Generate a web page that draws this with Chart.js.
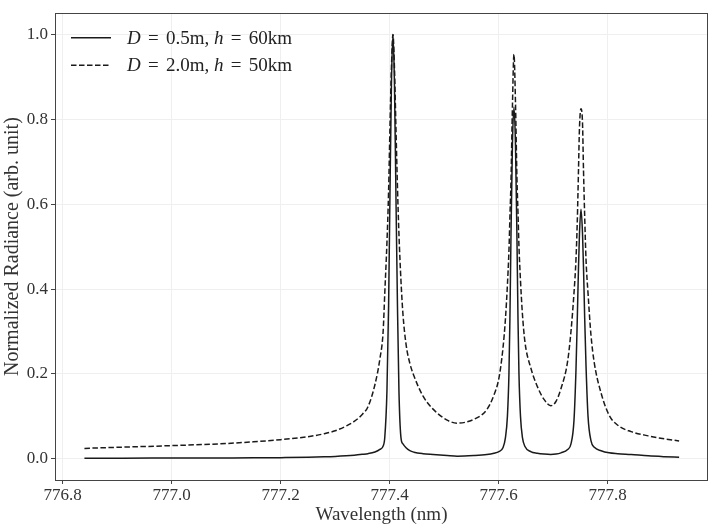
<!DOCTYPE html>
<html>
<head>
<meta charset="utf-8">
<script src="https://cdn.jsdelivr.net/npm/chart.js@4"></script>
<style>
html,body{margin:0;padding:0;background:#fff;}
#wrap{width:709px;height:526px;}
</style>
</head>
<body>
<div id="wrap"><canvas id="c" width="709" height="526"></canvas></div>
<script>
// ---- data ----
const wavelengths = [
  776.840, 776.900, 777.000, 777.100, 777.150, 777.200, 777.250, 777.280, 777.300, 777.320, 777.335, 777.350,
  777.360, 777.373, 777.382, 777.388, 777.391, 777.395, 777.398, 777.4005, 777.4032, 777.406,
  777.4088, 777.4115, 777.4143, 777.417, 777.4207, 777.4244, 777.430, 777.437, 777.4446, 777.461, 777.4796, 777.5054, 777.524,
  777.5544, 777.5783, 777.5912, 777.6004, 777.6078, 777.6124, 777.616, 777.6188, 777.6206, 777.6225, 777.6252, 777.628,
  777.6308, 777.6335, 777.6354, 777.6372, 777.640, 777.6436, 777.6482, 777.6587, 777.671, 777.6832, 777.6955,
  777.7050, 777.7142, 777.7265, 777.7326, 777.7381, 777.7418, 777.7442, 777.7464, 777.7482, 777.751,
  777.7538, 777.7556, 777.7578, 777.7602, 777.7639, 777.7694, 777.7755, 777.7878, 777.8025, 777.8185, 777.843, 777.8743, 777.9037, 777.931
];
const solidRadiance = [
  0.0015, 0.0015, 0.0017, 0.002, 0.0022, 0.0027, 0.0035, 0.0045, 0.0055, 0.007, 0.0085, 0.0105,
  0.012, 0.016, 0.022, 0.030, 0.050, 0.16, 0.36, 0.62, 0.88, 1.0,
  0.88, 0.62, 0.36, 0.16, 0.05, 0.035, 0.026, 0.019, 0.0155, 0.012, 0.010, 0.0075, 0.006,
  0.0075, 0.010, 0.013, 0.017, 0.026, 0.05, 0.10, 0.20, 0.33, 0.52, 0.74, 0.829,
  0.74, 0.52, 0.33, 0.20, 0.10, 0.05, 0.029, 0.017, 0.013, 0.011, 0.010,
  0.011, 0.014, 0.022, 0.035, 0.09, 0.21, 0.33, 0.45, 0.53, 0.588,
  0.53, 0.45, 0.33, 0.22, 0.10, 0.042, 0.027, 0.019, 0.014, 0.012, 0.010, 0.007, 0.005, 0.0035
];
const dashedRadiance = [
  0.0245, 0.027, 0.031, 0.036, 0.040, 0.045, 0.052, 0.059, 0.066, 0.077, 0.088, 0.105,
  0.122, 0.175, 0.235, 0.30, 0.39, 0.51, 0.63, 0.78, 0.92, 1.0,
  0.92, 0.78, 0.64, 0.53, 0.42, 0.34, 0.27, 0.225, 0.195, 0.148, 0.117, 0.091, 0.084,
  0.093, 0.116, 0.15, 0.19, 0.26, 0.33, 0.41, 0.49, 0.57, 0.65, 0.83, 0.953,
  0.84, 0.66, 0.58, 0.50, 0.42, 0.34, 0.275, 0.215, 0.17, 0.14, 0.125,
  0.135, 0.165, 0.23, 0.30, 0.39, 0.47, 0.56, 0.68, 0.78, 0.825,
  0.79, 0.68, 0.57, 0.47, 0.39, 0.29, 0.225, 0.155, 0.103, 0.079, 0.064, 0.054, 0.047, 0.042
];
const seriesLabels = ['D = 0.5m, h = 60km', 'D = 2.0m, h = 50km'];
const xTickValues = [776.8, 777.0, 777.2, 777.4, 777.6, 777.8];
const yTickValues = [0.0, 0.2, 0.4, 0.6, 0.8, 1.0];
const xTitle = 'Wavelength (nm)';
const yTitle = 'Normalized Radiance (arb. unit)';

const SERIF = "'Liberation Serif', 'DejaVu Serif', serif";
const LINE = '#1a1a1a';
const DASH = [5.5, 2.5];

function pts(ys) { return wavelengths.map((x, i) => ({x: x, y: ys[i]})); }

// frame around the plot area
const framePlugin = {
  id: 'frame',
  afterDraw(chart) {
    const a = chart.chartArea, ctx = chart.ctx;
    ctx.save();
    ctx.strokeStyle = '#444';
    ctx.lineWidth = 1;
    ctx.strokeRect(Math.round(a.left) + 0.5, Math.round(a.top) + 0.5,
                   Math.round(a.right - a.left) - 1, Math.round(a.bottom - a.top));
    ctx.restore();
  }
};

// legend with italic math variables
const legendPlugin = {
  id: 'mathLegend',
  afterDraw(chart) {
    const ctx = chart.ctx, a = chart.chartArea;
    const x0 = a.left + 16, x1 = a.left + 56, tx = a.left + 72;
    let y = a.top + 24.5;
    chart.data.datasets.forEach(ds => {
      ctx.save();
      ctx.strokeStyle = ds.borderColor;
      ctx.lineWidth = ds.borderWidth;
      ctx.setLineDash(ds.borderDash || []);
      ctx.beginPath(); ctx.moveTo(x0, y); ctx.lineTo(x1, y); ctx.stroke();
      ctx.setLineDash([]);
      ctx.fillStyle = '#222';
      ctx.textBaseline = 'middle';
      const toks = ds.label.match(/[A-Za-z]+|=|[^A-Za-z=]+/g);
      let cx = tx;
      toks.forEach((t, i) => {
        const next = (toks[i + 1] || '').trim() || (toks[i + 2] || '');
        const italic = t.length === 1 && /[A-Za-z]/.test(t) && next.startsWith('=');
        ctx.font = (italic ? 'italic ' : '') + '19px ' + SERIF;
        if (t === '=') cx += 2.5;
        ctx.fillText(t, cx, y + 1);
        cx += ctx.measureText(t).width;
        if (t === '=') cx += 2.5;
      });
      ctx.restore();
      y += 27.5;
    });
  }
};

new Chart(document.getElementById('c'), {
  type: 'line',
  data: {
    datasets: [
      {label: seriesLabels[0], data: pts(solidRadiance), borderColor: LINE, borderWidth: 1.5,
       pointRadius: 0, fill: false, cubicInterpolationMode: 'monotone'},
      {label: seriesLabels[1], data: pts(dashedRadiance), borderColor: LINE, borderWidth: 1.5,
       borderDash: DASH, pointRadius: 0, fill: false, cubicInterpolationMode: 'monotone'}
    ]
  },
  options: {
    responsive: false,
    animation: false,
    layout: {padding: {top: 0, right: 1, left: 0, bottom: 0}},
    plugins: {legend: {display: false}, tooltip: {enabled: false}},
    scales: {
      x: {
        type: 'linear', min: 776.786, max: 777.984,
        afterBuildTicks: s => { s.ticks = xTickValues.map(v => ({value: v})); },
        afterFit: s => { s.height = 46; },
        grid: {color: '#efefef', lineWidth: 1, drawTicks: true, tickLength: 4, tickColor: '#444'},
        border: {display: false},
        ticks: {callback: v => v.toFixed(1), font: {family: SERIF, size: 17}, color: '#333', padding: 1, maxRotation: 0, autoSkip: false},
        title: {display: true, text: xTitle, font: {family: SERIF, size: 19, lineHeight: 1.0}, color: '#333', padding: {top: 0, bottom: 1}}
      },
      y: {
        type: 'linear', min: -0.05, max: 1.05,
        afterBuildTicks: s => { s.ticks = yTickValues.map(v => ({value: v})); },
        afterFit: s => { s.width = 55; },
        grid: {color: '#efefef', lineWidth: 1, drawTicks: true, tickLength: 4, tickColor: '#444'},
        border: {display: false},
        ticks: {callback: v => v.toFixed(1), font: {family: SERIF, size: 17}, color: '#333', padding: 3},
        title: {display: true, text: yTitle, font: {family: SERIF, size: 20, lineHeight: 1.15}, color: '#333', padding: {top: 1, bottom: 0}}
      }
    }
  },
  plugins: [framePlugin, legendPlugin]
});
</script>
</body>
</html>
